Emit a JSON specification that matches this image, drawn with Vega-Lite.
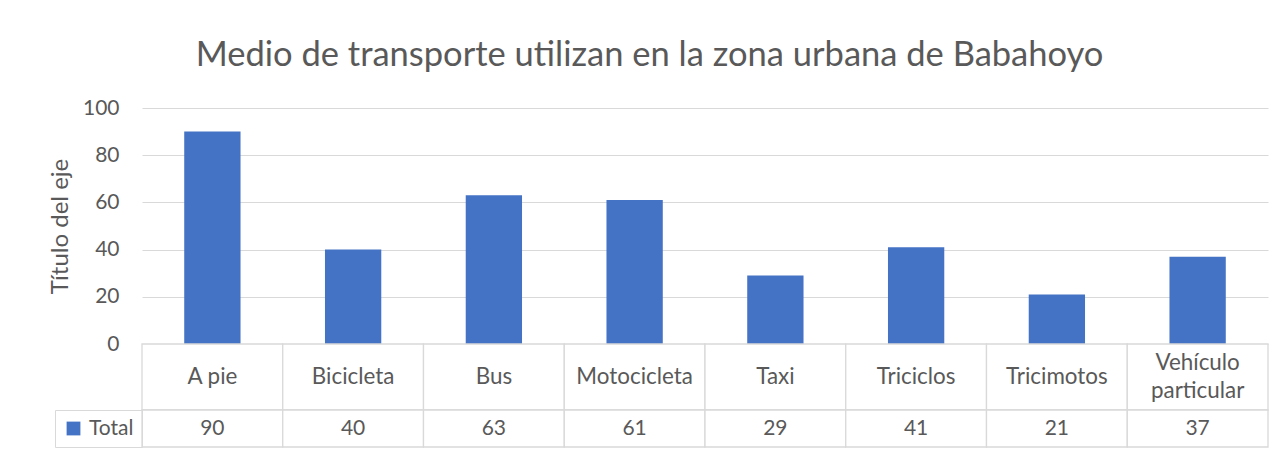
{
  "$schema": "https://vega.github.io/schema/vega-lite/v6.json",
  "padding": {"left": 48, "top": 37, "right": 5, "bottom": 5},
  "background": "white",
  "datasets": {
    "t": [
      {"cat": "A pie", "label": "A pie", "value": 90, "series": "Total"},
      {"cat": "Bicicleta", "label": "Bicicleta", "value": 40, "series": "Total"},
      {"cat": "Bus", "label": "Bus", "value": 63, "series": "Total"},
      {"cat": "Motocicleta", "label": "Motocicleta", "value": 61, "series": "Total"},
      {"cat": "Taxi", "label": "Taxi", "value": 29, "series": "Total"},
      {"cat": "Triciclos", "label": "Triciclos", "value": 41, "series": "Total"},
      {"cat": "Tricimotos", "label": "Tricimotos", "value": 21, "series": "Total"},
      {"cat": "Vehículo particular", "label": "Vehículo\nparticular", "value": 37, "series": "Total"}
    ]
  },
  "title": {
    "text": "Medio de transporte utilizan en la zona urbana de Babahoyo",
    "font": "Lato",
    "fontSize": 34.5,
    "fontWeight": "normal",
    "color": "#595959",
    "anchor": "middle",
    "offset": 24,
    "dx": -9
  },
  "spacing": 0,
  "bounds": "flush",
  "resolve": {"legend": {"color": "independent"}},
  "config": {
    "view": {"stroke": null},
    "font": "Lato"
  },
  "vconcat": [
    {
      "width": 1126,
      "height": 236,
      "data": {"name": "t"},
      "mark": {"type": "bar", "color": "#4472C4"},
      "encoding": {
        "x": {
          "field": "cat",
          "type": "nominal",
          "sort": null,
          "scale": {"paddingInner": 0.6, "paddingOuter": 0.3},
          "axis": null
        },
        "y": {
          "field": "value",
          "type": "quantitative",
          "scale": {"domain": [0, 100], "nice": false},
          "axis": {
            "values": [0, 20, 40, 60, 80, 100],
            "grid": true,
            "gridColor": "#D9D9D9",
            "gridWidth": 1,
            "domain": false,
            "ticks": false,
            "labelPadding": 23,
            "labelFont": "Lato",
            "labelFontSize": 21,
            "labelColor": "#595959",
            "title": "Título del eje",
            "titleFont": "Lato",
            "titleFontSize": 24,
            "titleFontWeight": "normal",
            "titleColor": "#595959",
            "titlePadding": 10
          }
        }
      }
    },
    {
      "width": 1126,
      "height": 66,
      "data": {"name": "t"},
      "encoding": {
        "x": {
          "field": "cat",
          "type": "nominal",
          "sort": null,
          "scale": {"paddingInner": 0, "paddingOuter": 0},
          "axis": null
        }
      },
      "layer": [
        {
          "mark": {"type": "rect", "fill": "white", "stroke": "#D9D9D9", "strokeWidth": 1.3}
        },
        {
          "transform": [{"filter": "indexof(datum.label, '\\n') < 0"}],
          "mark": {"type": "text", "font": "Lato", "fontSize": 22.4, "color": "#595959", "baseline": "middle"},
          "encoding": {"text": {"field": "label"}}
        },
        {
          "transform": [{"filter": "indexof(datum.label, '\\n') >= 0"}],
          "mark": {"type": "text", "font": "Lato", "fontSize": 22.4, "color": "#595959", "lineBreak": "\n", "lineHeight": 28, "baseline": "middle", "dy": -14},
          "encoding": {"text": {"field": "label"}}
        }
      ]
    },
    {
      "width": 1126,
      "height": 37,
      "data": {"name": "t"},
      "encoding": {
        "x": {
          "field": "cat",
          "type": "nominal",
          "sort": null,
          "scale": {"paddingInner": 0, "paddingOuter": 0},
          "axis": null
        }
      },
      "layer": [
        {
          "mark": {"type": "rect", "fill": "white", "stroke": "#D9D9D9", "strokeWidth": 1.3}
        },
        {
          "mark": {"type": "square", "opacity": 0},
          "encoding": {
            "color": {
              "field": "series",
              "type": "nominal",
              "scale": {"range": ["#4472C4"]},
              "legend": {
                "orient": "left",
                "offset": 0,
                "title": null,
                "padding": 8,
                "strokeColor": "#D9D9D9",
                "symbolType": "square",
                "symbolSize": 190,
                "symbolOpacity": 1,
                "symbolStrokeWidth": 0,
                "labelFont": "Lato",
                "labelFontSize": 21,
                "labelColor": "#595959",
                "labelOffset": 5
              }
            }
          }
        },
        {
          "mark": {"type": "text", "font": "Lato", "fontSize": 21, "color": "#595959", "baseline": "middle"},
          "encoding": {"text": {"field": "value"}}
        }
      ]
    }
  ]
}
